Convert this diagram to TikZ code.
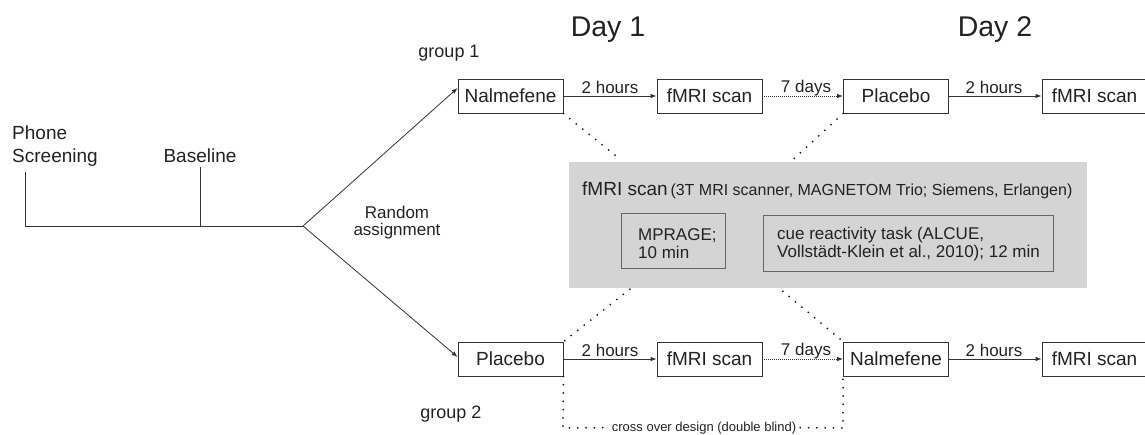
\documentclass[tikz,border=0pt]{standalone}
\usepackage{fontspec}
\setmainfont{Liberation Sans}
\usetikzlibrary{arrows.meta,calc}
\definecolor{ink}{HTML}{222222}
\definecolor{lin}{HTML}{333333}
\definecolor{grayfill}{HTML}{D4D4D4}
\begin{document}
\begin{tikzpicture}[x=1pt,y=-1pt,
  every node/.style={text=ink},
  boxn/.style={draw=lin,line width=0.8pt,fill=white,minimum width=105pt,minimum height=34pt,inner sep=0pt,font=\fontsize{19}{22}\selectfont},
  innerbox/.style={draw=black!60,line width=0.8pt,inner sep=0pt},
  arr/.style={draw=lin,line width=0.8pt,-{Latex[length=6pt,width=4.5pt]}},
  darr/.style={draw=lin,line width=0.8pt,dash pattern=on 1pt off 1pt,-{Latex[length=6pt,width=4.5pt]}},
  dotbig/.style={draw=black!90,line width=2pt,dash pattern=on 0pt off 8.3pt,line cap=round},
  lbl/.style={font=\fontsize{17}{20}\selectfont,anchor=base,inner sep=0pt},
  tline/.style={draw=lin,line width=0.8pt}]
\useasboundingbox (0,0) rectangle (1145,434);

% titles
\node[anchor=base,font=\fontsize{28.5}{32}\selectfont,inner sep=0pt] (d1) at (608,36) {Day 1};
\node[anchor=base,font=\fontsize{28.5}{32}\selectfont,inner sep=0pt] (d2) at (995,36) {Day 2};
\node[lbl,font=\fontsize{18}{20}\selectfont] (g1) at (449,57) {group 1};
\node[lbl,font=\fontsize{18}{20}\selectfont] (g2) at (451,418) {group 2};

% timeline
\node[anchor=base west,font=\fontsize{19}{22}\selectfont,inner sep=0pt] (ph) at (12,139) {Phone};
\node[anchor=base west,font=\fontsize{19}{22}\selectfont,inner sep=0pt] (scr) at (12,162) {Screening};
\node[anchor=base,font=\fontsize{19}{22}\selectfont,inner sep=0pt] (bas) at (200,162) {Baseline};
\coordinate (pst) at (25,172);
\coordinate (pbt) at (25,226);
\coordinate (bst) at (200,167);
\coordinate (bsb) at (200,226);
\coordinate (br) at (303,226);
\draw[tline] (pst) -- (pbt) -- (br);
\draw[tline] (bst) -- (bsb);
\node[lbl] (ra1) at (397,218) {Random};
\node[lbl] (ra2) at (397,235) {assignment};

% gray box
\node[fill=grayfill,minimum width=518pt,minimum height=126pt,inner sep=0pt] (gray) at (828,225) {};
\node[anchor=base west,inner sep=0pt] (gt) at (582,195) {{\fontsize{19}{22}\selectfont fMRI scan} {\fontsize{16}{19}\selectfont(3T MRI scanner, MAGNETOM Trio; Siemens, Erlangen)}};
\node[innerbox,minimum width=104pt,minimum height=55pt] (mp) at (673,240.5) {};
\node[anchor=west,align=left,inner sep=0pt,font=\fontsize{17}{18}\selectfont] (mpt) at (638,244) {MPRAGE;\\10 min};
\node[innerbox,minimum width=290pt,minimum height=56pt] (cue) at (908,243) {};
\node[anchor=west,align=left,inner sep=0pt,font=\fontsize{17}{18}\selectfont] (cuet) at (777,244) {cue reactivity task (ALCUE,\\Vollstädt-Klein et al., 2010); 12 min};

% group 1 row
\node[boxn] (n1) at (510.5,96) {Nalmefene};
\node[boxn] (f1) at (709.5,96) {fMRI scan};
\node[boxn] (p1) at (896,96) {Placebo};
\node[boxn] (f2) at (1094.5,96) {fMRI scan};
\draw[arr] (n1) -- (f1);
\node[lbl] (h1) at (610,93) {2 hours};
\draw[darr] (f1) -- (p1);
\node[lbl] (s1) at (806,92) {7 days};
\draw[arr] (p1) -- (f2);
\node[lbl] (h2) at (994,93) {2 hours};

% group 2 row
\node[boxn] (p2) at (510.5,359) {Placebo};
\node[boxn] (f3) at (709.5,359) {fMRI scan};
\node[boxn] (n2) at (896,359) {Nalmefene};
\node[boxn] (f4) at (1094.5,359) {fMRI scan};
\draw[arr] (p2) -- (f3);
\node[lbl] (h3) at (610,356) {2 hours};
\draw[darr] (f3) -- (n2);
\node[lbl] (s2) at (806,355) {7 days};
\draw[arr] (n2) -- (f4);
\node[lbl] (h4) at (994,356) {2 hours};

% random assignment arrows
\draw[arr] (br) -- ($(n1.west)+(0,-8)$);
\draw[arr] (br) -- ($(p2.west)+(0,-2)$);

% dotted links to gray box
\draw[dotbig] (n1.south east) -- ($(gray.north west)+(52,-2)$);
\draw[dotbig] (p1.south west) -- ($(gray.north west)+(224,-2)$);
\draw[dotbig] ($(gray.south west)+(61,1)$) -- (p2.north east);
\draw[dotbig] ($(gray.south west)+(214,3)$) -- (n2.north west);

% cross over
\node[font=\fontsize{13}{15}\selectfont,inner sep=0pt,anchor=base] (cx) at (704,431) {cross over design (double blind)};
\coordinate (cl) at (563,428);
\coordinate (cr) at (843,428);
\draw[dotbig] (p2.south east) -- (cl) -- ($(cx.west)+(-4,0)$);
\draw[dotbig] ($(cx.east)+(4,0)$) -- (cr) -- (n2.south west);
\end{tikzpicture}
\end{document}
